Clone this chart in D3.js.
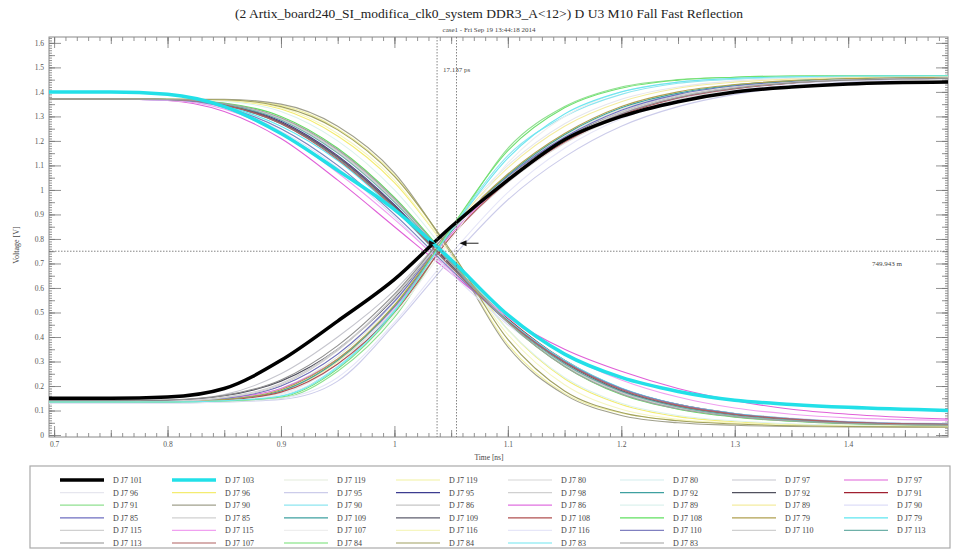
<!DOCTYPE html>
<html>
<head>
<meta charset="utf-8">
<script src="https://cdn.jsdelivr.net/npm/d3@7"></script>
<style>
  body { margin: 0; background: #fff; }
  svg { display: block; font-family: "Liberation Serif", "DejaVu Serif", serif; }
</style>
</head>
<body>
<svg width="955" height="550"></svg>
<script>
const svg = d3.select("svg");

const titleText = "(2 Artix_board240_SI_modifica_clk0_system DDR3_A<12>) D U3 M10 Fall Fast Reflection";
const subtitleText = "case1 - Fri Sep 19 13:44:18 2014";

// sample times [ns] shared by all waveforms
const times = [0.6955, 0.75, 0.80, 0.85, 0.90, 0.95, 1.00, 1.05, 1.10, 1.15, 1.20, 1.25, 1.30, 1.35, 1.40, 1.488];

const seriesNames = [
  "D J7 101", "D J7 103", "D J7 119", "D J7 119", "D J7 80", "D J7 80", "D J7 97", "D J7 97",
  "D J7 96", "D J7 96", "D J7 95", "D J7 95", "D J7 98", "D J7 92", "D J7 92", "D J7 91",
  "D J7 91", "D J7 90", "D J7 90", "D J7 86", "D J7 86", "D J7 89", "D J7 89", "D J7 90",
  "D J7 85", "D J7 85", "D J7 109", "D J7 109", "D J7 108", "D J7 108", "D J7 79", "D J7 79",
  "D J7 115", "D J7 115", "D J7 107", "D J7 116", "D J7 116", "D J7 110", "D J7 110", "D J7 113",
  "D J7 113", "D J7 107", "D J7 84", "D J7 84", "D J7 83", "D J7 83"
];

const seriesColors = [
  "#000000", "#22e0e8", "#e4ecdc", "#f2f2a0", "#d6d6d6", "#d4eeee", "#c6c6ce", "#e060d8",
  "#e6e6ee", "#f4ec70", "#ccccea", "#3c3c90", "#d0d0d0", "#3ea0a0", "#50505e", "#a02030",
  "#90e090", "#a0a08c", "#8ee6f0", "#c6c6c6", "#e070e0", "#dcf2ee", "#f4eca0", "#dedef8",
  "#6e6ec0", "#d0d0d0", "#3ea0a0", "#5e5e6e", "#b05050", "#60e060", "#b0a050", "#5ee6f0",
  "#d0d0d0", "#f0a0f0", "#eeeeee", "#f6f6c0", "#e6e6f8", "#8080c0", "#d0d0d0", "#6eb0a8",
  "#909090", "#b06060", "#70e070", "#a0a060", "#6ee6f0", "#a0a0a0"
];

// voltage [V] of each waveform at the sample times
const seriesValues = [
  [0.15, 0.15, 0.155, 0.19, 0.305, 0.465, 0.635, 0.85, 1.04, 1.205, 1.30, 1.36, 1.40, 1.42, 1.432, 1.44],
  [1.40, 1.40, 1.39, 1.34, 1.23, 1.08, 0.92, 0.715, 0.49, 0.33, 0.235, 0.178, 0.142, 0.125, 0.113, 0.10],
  [0.135, 0.135, 0.137, 0.147, 0.19, 0.32, 0.54, 0.84, 1.06, 1.22, 1.33, 1.39, 1.425, 1.443, 1.452, 1.46],
  [1.37, 1.37, 1.37, 1.368, 1.345, 1.25, 1.06, 0.74, 0.37, 0.17, 0.09, 0.06, 0.048, 0.04, 0.036, 0.033],
  [0.135, 0.135, 0.136, 0.145, 0.18, 0.30, 0.51, 0.81, 1.03, 1.19, 1.30, 1.37, 1.41, 1.435, 1.448, 1.456],
  [1.37, 1.37, 1.368, 1.34, 1.25, 1.10, 0.90, 0.67, 0.46, 0.30, 0.19, 0.125, 0.088, 0.068, 0.055, 0.047],
  [0.135, 0.135, 0.14, 0.165, 0.25, 0.40, 0.59, 0.84, 1.05, 1.21, 1.31, 1.375, 1.412, 1.435, 1.447, 1.455],
  [1.37, 1.37, 1.365, 1.32, 1.21, 1.04, 0.85, 0.66, 0.48, 0.35, 0.26, 0.19, 0.14, 0.105, 0.085, 0.065],
  [0.135, 0.135, 0.136, 0.142, 0.17, 0.29, 0.52, 0.85, 1.10, 1.27, 1.37, 1.42, 1.445, 1.455, 1.46, 1.463],
  [1.37, 1.37, 1.37, 1.365, 1.33, 1.22, 1.03, 0.74, 0.43, 0.23, 0.125, 0.075, 0.054, 0.044, 0.039, 0.035],
  [0.13, 0.13, 0.13, 0.135, 0.145, 0.22, 0.45, 0.72, 0.96, 1.135, 1.26, 1.34, 1.39, 1.42, 1.44, 1.455],
  [1.37, 1.37, 1.37, 1.35, 1.28, 1.14, 0.94, 0.69, 0.46, 0.29, 0.18, 0.118, 0.083, 0.063, 0.05, 0.042],
  [0.135, 0.135, 0.137, 0.15, 0.20, 0.33, 0.55, 0.84, 1.06, 1.215, 1.32, 1.385, 1.42, 1.44, 1.45, 1.458],
  [1.37, 1.37, 1.369, 1.345, 1.27, 1.13, 0.93, 0.69, 0.47, 0.30, 0.185, 0.12, 0.085, 0.064, 0.051, 0.043],
  [0.14, 0.14, 0.142, 0.16, 0.22, 0.35, 0.56, 0.84, 1.05, 1.21, 1.315, 1.38, 1.417, 1.438, 1.449, 1.456],
  [1.37, 1.37, 1.369, 1.348, 1.275, 1.135, 0.935, 0.695, 0.475, 0.305, 0.19, 0.125, 0.088, 0.067, 0.053, 0.045],
  [0.135, 0.135, 0.135, 0.138, 0.15, 0.26, 0.48, 0.83, 1.17, 1.34, 1.42, 1.45, 1.46, 1.465, 1.466, 1.467],
  [1.37, 1.37, 1.37, 1.37, 1.35, 1.26, 1.07, 0.74, 0.36, 0.165, 0.08, 0.05, 0.04, 0.035, 0.033, 0.032],
  [0.135, 0.135, 0.135, 0.14, 0.16, 0.28, 0.51, 0.84, 1.14, 1.30, 1.39, 1.435, 1.452, 1.46, 1.463, 1.465],
  [1.37, 1.37, 1.369, 1.35, 1.29, 1.16, 0.96, 0.71, 0.47, 0.29, 0.175, 0.112, 0.078, 0.06, 0.048, 0.04],
  [0.135, 0.135, 0.137, 0.15, 0.19, 0.31, 0.52, 0.82, 1.04, 1.20, 1.31, 1.375, 1.415, 1.437, 1.448, 1.456],
  [1.37, 1.37, 1.37, 1.362, 1.32, 1.20, 1.00, 0.72, 0.43, 0.235, 0.13, 0.08, 0.058, 0.046, 0.04, 0.036],
  [0.135, 0.135, 0.136, 0.144, 0.18, 0.30, 0.53, 0.84, 1.09, 1.26, 1.36, 1.415, 1.44, 1.452, 1.458, 1.462],
  [1.37, 1.37, 1.366, 1.335, 1.24, 1.09, 0.89, 0.66, 0.45, 0.29, 0.185, 0.123, 0.088, 0.068, 0.055, 0.047],
  [0.135, 0.135, 0.137, 0.15, 0.20, 0.33, 0.545, 0.835, 1.055, 1.215, 1.325, 1.39, 1.425, 1.443, 1.452, 1.458],
  [1.37, 1.37, 1.369, 1.352, 1.29, 1.155, 0.955, 0.70, 0.46, 0.285, 0.172, 0.11, 0.077, 0.059, 0.048, 0.041],
  [0.135, 0.135, 0.136, 0.145, 0.18, 0.305, 0.525, 0.83, 1.06, 1.225, 1.335, 1.395, 1.428, 1.445, 1.453, 1.459],
  [1.37, 1.37, 1.369, 1.347, 1.275, 1.135, 0.935, 0.69, 0.465, 0.295, 0.182, 0.118, 0.083, 0.063, 0.05, 0.043],
  [0.135, 0.135, 0.136, 0.143, 0.175, 0.29, 0.50, 0.81, 1.035, 1.195, 1.305, 1.375, 1.413, 1.436, 1.448, 1.456],
  [1.37, 1.37, 1.37, 1.355, 1.30, 1.17, 0.97, 0.71, 0.46, 0.28, 0.165, 0.105, 0.073, 0.056, 0.046, 0.04],
  [0.135, 0.135, 0.136, 0.145, 0.185, 0.31, 0.53, 0.835, 1.065, 1.23, 1.34, 1.40, 1.43, 1.446, 1.454, 1.46],
  [1.37, 1.37, 1.368, 1.342, 1.26, 1.12, 0.92, 0.685, 0.47, 0.305, 0.192, 0.125, 0.088, 0.066, 0.053, 0.045],
  [0.135, 0.135, 0.137, 0.152, 0.205, 0.345, 0.565, 0.84, 1.05, 1.205, 1.315, 1.38, 1.418, 1.438, 1.449, 1.456],
  [1.37, 1.37, 1.366, 1.33, 1.23, 1.07, 0.88, 0.67, 0.48, 0.33, 0.225, 0.155, 0.11, 0.085, 0.07, 0.06],
  [0.135, 0.135, 0.136, 0.14, 0.165, 0.27, 0.49, 0.80, 1.11, 1.30, 1.40, 1.44, 1.455, 1.462, 1.464, 1.466],
  [1.37, 1.37, 1.37, 1.366, 1.335, 1.23, 1.04, 0.735, 0.41, 0.205, 0.105, 0.064, 0.048, 0.04, 0.037, 0.034],
  [0.13, 0.13, 0.13, 0.136, 0.15, 0.235, 0.46, 0.74, 0.99, 1.17, 1.29, 1.36, 1.405, 1.43, 1.445, 1.455],
  [1.37, 1.37, 1.368, 1.338, 1.25, 1.10, 0.90, 0.675, 0.465, 0.30, 0.19, 0.124, 0.087, 0.066, 0.053, 0.045],
  [0.135, 0.135, 0.138, 0.155, 0.21, 0.35, 0.565, 0.835, 1.045, 1.205, 1.315, 1.38, 1.417, 1.438, 1.449, 1.456],
  [1.37, 1.37, 1.369, 1.35, 1.285, 1.15, 0.95, 0.70, 0.465, 0.29, 0.178, 0.115, 0.08, 0.061, 0.049, 0.042],
  [0.14, 0.14, 0.143, 0.162, 0.225, 0.365, 0.575, 0.84, 1.045, 1.20, 1.31, 1.377, 1.415, 1.437, 1.448, 1.455],
  [1.37, 1.37, 1.369, 1.346, 1.27, 1.125, 0.925, 0.685, 0.465, 0.298, 0.186, 0.121, 0.085, 0.065, 0.052, 0.044],
  [0.135, 0.135, 0.135, 0.139, 0.155, 0.27, 0.50, 0.845, 1.16, 1.335, 1.415, 1.448, 1.46, 1.465, 1.466, 1.467],
  [1.37, 1.37, 1.37, 1.368, 1.34, 1.245, 1.055, 0.75, 0.39, 0.18, 0.092, 0.058, 0.045, 0.038, 0.035, 0.033],
  [0.135, 0.135, 0.135, 0.14, 0.158, 0.275, 0.505, 0.835, 1.13, 1.31, 1.40, 1.44, 1.455, 1.462, 1.465, 1.466],
  [1.37, 1.37, 1.369, 1.353, 1.295, 1.165, 0.965, 0.705, 0.46, 0.28, 0.168, 0.107, 0.075, 0.057, 0.047, 0.04]
];

// the two highlighted nets are drawn thick
const thickSeries = ["D J7 101", "D J7 103"];

const xTicks = [0.7, 0.8, 0.9, 1.0, 1.1, 1.2, 1.3, 1.4];
const yTicks = [0, 0.1, 0.2, 0.3, 0.4, 0.5, 0.6, 0.7, 0.8, 0.9, 1.0, 1.1, 1.2, 1.3, 1.4, 1.5, 1.6];

// measurement cursors
const cursorTimes = [1.0376, 1.0376 + 0.017137];
const cursorVoltage = 0.749943;
const cursorDeltaLabel = "17.137 ps";
const cursorVoltLabel = "749.943 m";

const margin = { top: 37, right: 7, bottom: 113, left: 49 };
const width = 955, height = 550;
const innerWidth = width - margin.left - margin.right;
const innerHeight = height - margin.top - margin.bottom;

const xScale = d3.scaleLinear().domain([0.6955, 1.488]).range([0, innerWidth]);
const yScale = d3.scaleLinear().domain([-0.008, 1.624]).range([innerHeight, 0]);

// title
svg.append("text").attr("x", 489).attr("y", 18).attr("text-anchor", "middle")
  .attr("font-size", 13.5).attr("fill", "#222").text(titleText);
svg.append("text").attr("x", 489).attr("y", 32).attr("text-anchor", "middle")
  .attr("font-size", 7).attr("fill", "#444").text(subtitleText);

const g = svg.append("g").attr("transform", `translate(${margin.left}, ${margin.top})`);

g.append("clipPath").attr("id", "plot-clip")
  .append("rect").attr("width", innerWidth).attr("height", innerHeight);

// tick sets
const xMinor = d3.range(70, 149).map(d => d / 100);
const xMid = d3.range(70, 149, 5).map(d => d / 100);
const yMinor = d3.range(0, 163).map(d => d / 100);
const yMid = d3.range(0, 163, 5).map(d => d / 100);

const tickColor = "#777";
const styleAxis = sel => {
  sel.select(".domain").remove();
  sel.selectAll("text").remove();
  sel.selectAll("line").attr("stroke", tickColor).attr("stroke-width", 0.8);
};

function addTicks(axisFn, scale, values, size, transform) {
  g.append("g").attr("transform", transform || null)
    .call(axisFn(scale).tickValues(values).tickSize(size))
    .call(styleAxis);
}

// bottom axis ticks pointing up, top axis ticks pointing down
addTicks(d3.axisBottom, xScale, xMinor, -4, `translate(0, ${innerHeight})`);
addTicks(d3.axisBottom, xScale, xMid, -7, `translate(0, ${innerHeight})`);
addTicks(d3.axisBottom, xScale, xTicks, -11, `translate(0, ${innerHeight})`);
addTicks(d3.axisTop, xScale, xMinor, -4);
addTicks(d3.axisTop, xScale, xMid, -7);
addTicks(d3.axisTop, xScale, xTicks, -11);
addTicks(d3.axisLeft, yScale, yMinor, -3);
addTicks(d3.axisLeft, yScale, yMid, -6);
addTicks(d3.axisLeft, yScale, yTicks, -12);
addTicks(d3.axisRight, yScale, yMinor, -3, `translate(${innerWidth}, 0)`);
addTicks(d3.axisRight, yScale, yMid, -6, `translate(${innerWidth}, 0)`);
addTicks(d3.axisRight, yScale, yTicks, -12, `translate(${innerWidth}, 0)`);

// tick labels
g.append("g").attr("transform", `translate(0, ${innerHeight})`)
  .call(d3.axisBottom(xScale).tickValues(xTicks).tickSize(0).tickPadding(5).tickFormat(d3.format("~g")))
  .call(sel => sel.select(".domain").remove())
  .selectAll("text").attr("font-size", 7.5).attr("fill", "#555").attr("font-family", "Liberation Serif");

g.append("g")
  .call(d3.axisLeft(yScale).tickValues(yTicks).tickSize(0).tickPadding(5).tickFormat(d3.format("~g")))
  .call(sel => sel.select(".domain").remove())
  .selectAll("text").attr("font-size", 7.5).attr("fill", "#555").attr("font-family", "Liberation Serif");

// frame
g.append("rect").attr("width", innerWidth).attr("height", innerHeight)
  .attr("fill", "none").attr("stroke", "#888").attr("stroke-width", 1);

// axis titles
svg.append("text").attr("x", 489).attr("y", 460).attr("text-anchor", "middle")
  .attr("font-size", 7.5).attr("fill", "#444").text("Time [ns]");
svg.append("text").attr("transform", "translate(19, 245) rotate(-90)").attr("text-anchor", "middle")
  .attr("font-size", 8).attr("fill", "#444").text("Voltage [V]");

// waveforms
const line = d3.line()
  .x((d, i) => xScale(times[i]))
  .y(d => yScale(d))
  .curve(d3.curveMonotoneX);

const order = d3.range(seriesValues.length)
  .sort((a, b) => thickSeries.includes(seriesNames[a]) - thickSeries.includes(seriesNames[b]));

g.append("g").attr("clip-path", "url(#plot-clip)")
  .selectAll("path").data(order)
  .enter().append("path")
    .attr("d", i => line(seriesValues[i]))
    .attr("fill", "none")
    .attr("stroke", i => seriesColors[i])
    .attr("stroke-width", i => thickSeries.includes(seriesNames[i]) ? 3.5 : 1.1);

// cursors
g.selectAll(".vcursor").data(cursorTimes)
  .enter().append("line")
    .attr("x1", d => xScale(d)).attr("x2", d => xScale(d))
    .attr("y1", 0).attr("y2", innerHeight)
    .attr("stroke", "#666").attr("stroke-width", 0.8).attr("stroke-dasharray", "1.5,1.5");

g.append("line")
  .attr("x1", 0).attr("x2", innerWidth)
  .attr("y1", yScale(cursorVoltage)).attr("y2", yScale(cursorVoltage))
  .attr("stroke", "#666").attr("stroke-width", 0.8).attr("stroke-dasharray", "1.5,1.5");

g.append("text").attr("x", xScale(cursorTimes[0]) + 6).attr("y", 35)
  .attr("font-size", 7).attr("fill", "#444").text(cursorDeltaLabel);
g.append("text").attr("x", innerWidth - 76).attr("y", yScale(cursorVoltage) + 15)
  .attr("font-size", 7).attr("fill", "#444").text(cursorVoltLabel);

// cursor markers
const mx = xScale(cursorTimes[1]), my = yScale(cursorVoltage) - 8;
g.append("line").attr("x1", mx + 7).attr("x2", mx + 22).attr("y1", my).attr("y2", my)
  .attr("stroke", "#222").attr("stroke-width", 1);
g.append("path").attr("d", `M${mx + 3},${my} L${mx + 10},${my - 3} L${mx + 10},${my + 3} Z`).attr("fill", "#111");
const m1 = xScale(cursorTimes[0]);
g.append("path").attr("d", `M${m1 - 2},${my} L${m1 - 8},${my - 3} L${m1 - 8},${my + 3} Z`).attr("fill", "#111");

// legend
const legend = svg.append("g");
legend.append("rect").attr("x", 30).attr("y", 466).attr("width", 920).attr("height", 82)
  .attr("fill", "#fff").attr("stroke", "#aaa").attr("stroke-width", 1.2);

const item = legend.selectAll(".item").data(seriesNames)
  .enter().append("g")
    .attr("transform", (d, i) => `translate(${60 + (i % 8) * 112}, ${480 + Math.floor(i / 8) * 12.6})`);

item.append("line").attr("x1", 0).attr("x2", 44)
  .attr("stroke", (d, i) => seriesColors[i])
  .attr("stroke-width", d => thickSeries.includes(d) ? 3.5 : 1.2);

item.append("text").attr("x", 53).attr("y", 3)
  .attr("font-size", 8).attr("fill", "#444").text(d => d);
</script>
</body>
</html>
